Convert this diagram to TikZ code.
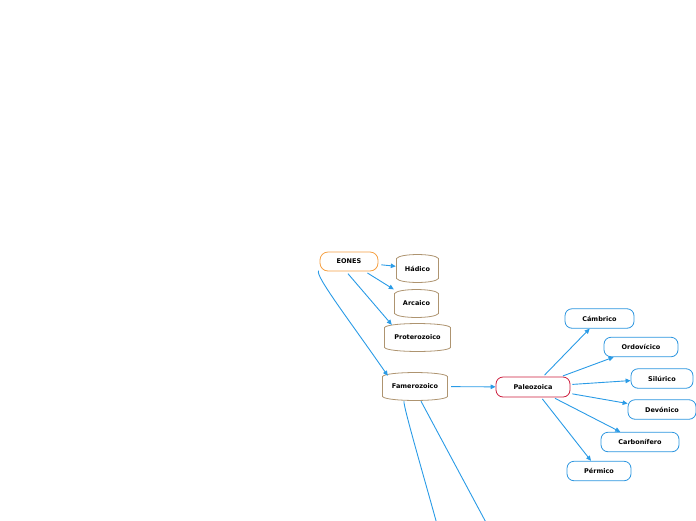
\documentclass[tikz,border=0pt]{standalone}
\usepackage{fontspec}
\setmainfont{DejaVu Sans}
\usetikzlibrary{arrows.meta,positioning}
\definecolor{EonOrange}{HTML}{F5A043}
\definecolor{EraBrown}{HTML}{AE9470}
\definecolor{PaleoRed}{HTML}{CC1C3C}
\definecolor{PeriodBlue}{HTML}{2B95DF}
\definecolor{LinkBlue}{HTML}{2A9BE6}

\begin{document}
\begin{tikzpicture}[x=1pt, y=-1pt,
    every node/.style={font=\fontsize{6.5}{7.5}\selectfont\bfseries, inner sep=0pt, align=center},
    eon/.style={rectangle, rounded corners=8pt, draw=EonOrange, line width=0.8pt, minimum width=58pt, minimum height=19pt},
    era/.style={rectangle, minimum height=29pt, path picture={
        \draw[EraBrown, line width=0.8pt]
          ([xshift=0.5pt, yshift=-4.5pt]path picture bounding box.north west) -- ([xshift=0.5pt, yshift=4.5pt]path picture bounding box.south west)
          .. controls ([xshift=4pt, yshift=-0.8pt]path picture bounding box.south west) and ([xshift=-4pt, yshift=-0.8pt]path picture bounding box.south east)
          .. ([xshift=-0.5pt, yshift=4.5pt]path picture bounding box.south east) -- ([xshift=-0.5pt, yshift=-4.5pt]path picture bounding box.north east)
          .. controls ([xshift=-4pt, yshift=0.8pt]path picture bounding box.north east) and ([xshift=4pt, yshift=0.8pt]path picture bounding box.north west)
          .. cycle;}},
    paleo/.style={rectangle, rounded corners=7pt, draw=PaleoRed, line width=0.8pt, minimum width=74pt, minimum height=20pt},
    period/.style={rectangle, rounded corners=7pt, draw=PeriodBlue, line width=0.8pt, minimum height=19.5pt},
    link/.style={-{Triangle[length=5pt, width=4.5pt]}, draw=LinkBlue, line width=0.9pt, shorten <=3pt},
    trail/.style={draw=LinkBlue, line width=0.9pt}
  ]
    \clip (0,0) rectangle (696,520);

    \node[eon] (eones) at (349,261.5) {EONES};
    \node[era, minimum width=43pt] (hadico) at (417.5,268.5) {Hádico};
    \node[era, minimum width=45pt] (arcaico) at (416.5,303.5) {Arcaico};
    \node[era, minimum width=67pt] (protero) at (417.5,337.5) {Proterozoico};
    \node[era, minimum width=66pt] (fanero) at (415,386.5) {Famerozoico};

    \node[paleo] (paleo) at (533,387) {Paleozoica};
    \node[period, minimum width=69pt] (cambrico) at (599.5,318.5) {Cámbrico};
    \node[period, minimum width=74pt] (ordo) at (641,347) {Ordovícico};
    \node[period, minimum width=62pt] (siluro) at (662,378.5) {Silúrico};
    \node[period, minimum width=68pt] (devon) at (662,409.5) {Devónico};
    \node[period, minimum width=78pt] (carbon) at (640,442) {Carbonífero};
    \node[period, minimum width=64pt] (permico) at (599,471) {Pérmico};

    % branches running off the bottom edge
    \coordinate (offleft) at (438,528);
    \coordinate (offright) at (489,528);

    \draw[link] (eones) -- (hadico);
    \draw[link] (eones) -- (arcaico);
    \draw[link] ([xshift=-3pt]eones.south) -- ([xshift=8pt, yshift=-2pt]protero.north west);
    \draw[link] ([xshift=1pt, yshift=3pt]eones.south west) .. controls +(-6,7) and +(-38,-55) .. ([xshift=6pt, yshift=-4pt]fanero.north west);
    \draw[link] (fanero) -- (paleo);
    \draw[trail] ([xshift=-11pt]fanero.south) .. controls +(-1.5,3) and +(-10,-37) .. (offleft);
    \draw[trail] ([xshift=6pt]fanero.south) -- (offright);

    \draw[link, shorten <=2pt] (paleo) -- (cambrico);
    \draw[link, shorten <=2pt] (paleo) -- (ordo);
    \draw[link, shorten <=2pt] (paleo) -- (siluro);
    \draw[link, shorten <=2pt] (paleo) -- (devon);
    \draw[link, shorten <=2pt] (paleo) -- (carbon);
    \draw[link, shorten <=2pt] (paleo) -- (permico);
  \end{tikzpicture}
\end{document}
